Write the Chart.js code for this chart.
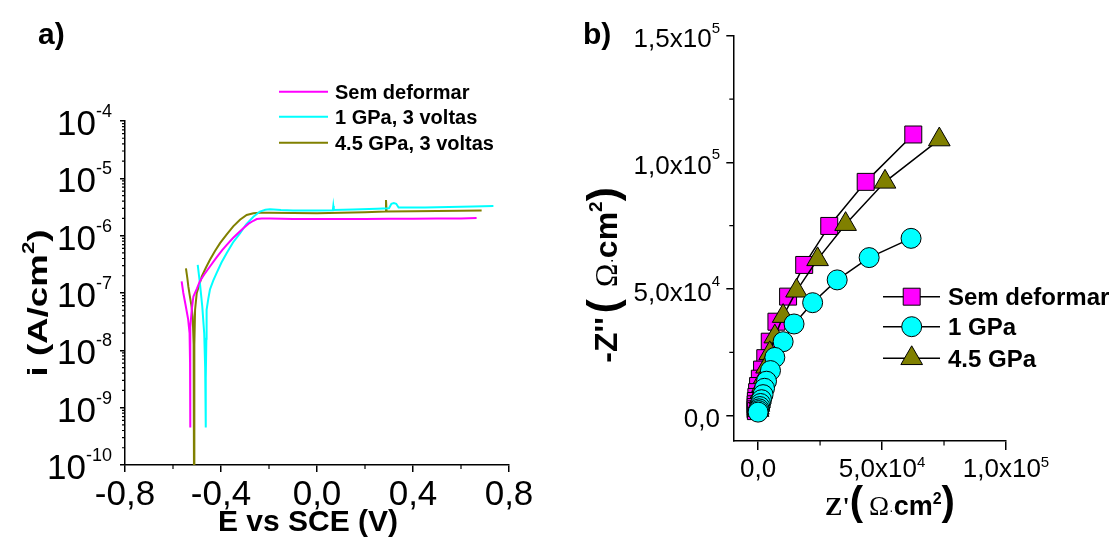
<!DOCTYPE html>
<html>
<head>
<meta charset="utf-8">
<script src="https://cdn.jsdelivr.net/npm/chart.js@4.4.1/dist/chart.umd.min.js"></script>
<style>
  html, body { margin: 0; padding: 0; background: #fff; overflow: hidden; }
  #wrap { position: relative; width: 1115px; height: 538px; }
  canvas { position: absolute; top: 0; }
  #polar { left: 0; }
  #nyq { left: 560px; }
</style>
</head>
<body>
<div id="wrap">
  <canvas id="polar" width="560" height="538"></canvas>
  <canvas id="nyq" width="555" height="538"></canvas>
</div>
<script>
const SANS = '"Liberation Sans", Arial, sans-serif';
const SERIF = '"Liberation Serif", "Times New Roman", serif';

// ---- a) polarization curves ----
const polarNames = ["Sem deformar", "1 GPa, 3 voltas", "4.5 GPa, 3 voltas"];
const polarColors = ["#ff00ff", "#00ffff", "#808000"];

const eSem = [-0.564, -0.557, -0.548, -0.537, -0.531, -0.529, -0.529, -0.528, -0.527, -0.522, -0.515, -0.500, -0.488, -0.470, -0.446, -0.420, -0.395, -0.376, -0.350, -0.325, -0.307, -0.285, -0.265, -0.251, -0.230, -0.196, -0.100, 0.000, 0.100, 0.200, 0.300, 0.400, 0.500, 0.600, 0.665];
const iSem = [1.6e-7, 1.0e-7, 6.3e-8, 3.5e-8, 2.0e-8, 6.3e-9, 4.5e-10, 5.0e-9, 2.5e-8, 5.1e-8, 8.7e-8, 1.2e-7, 1.6e-7, 2.1e-7, 2.9e-7, 4.1e-7, 5.6e-7, 6.9e-7, 9.1e-7, 1.15e-6, 1.35e-6, 1.62e-6, 1.82e-6, 1.95e-6, 2.0e-6, 2.0e-6, 1.96e-6, 1.95e-6, 1.96e-6, 1.96e-6, 1.97e-6, 1.98e-6, 1.99e-6, 2.0e-6, 2.03e-6];

const e1 = [-0.497, -0.488, -0.478, -0.470, -0.466, -0.464, -0.463, -0.461, -0.460, -0.453, -0.446, -0.432, -0.418, -0.398, -0.376, -0.350, -0.321, -0.295, -0.265, -0.238, -0.215, -0.196, -0.150, -0.100, -0.050, 0.000, 0.066, 0.068, 0.070, 0.150, 0.250, 0.300, 0.310, 0.320, 0.330, 0.340, 0.450, 0.550, 0.650, 0.735];
const i1 = [3.1e-7, 1.5e-7, 5.8e-8, 2.0e-8, 5.0e-9, 4.5e-10, 3.2e-9, 1.6e-8, 5.1e-8, 7.9e-8, 1.15e-7, 1.66e-7, 2.24e-7, 3.4e-7, 5.0e-7, 7.6e-7, 1.1e-6, 1.58e-6, 2.14e-6, 2.63e-6, 2.82e-6, 2.88e-6, 2.8e-6, 2.75e-6, 2.75e-6, 2.75e-6, 2.78e-6, 3.3e-6, 2.8e-6, 2.85e-6, 2.95e-6, 3.0e-6, 3.6e-6, 3.7e-6, 3.6e-6, 3.1e-6, 3.1e-6, 3.16e-6, 3.24e-6, 3.3e-6];

const e45 = [-0.546, -0.540, -0.536, -0.530, -0.524, -0.518, -0.514, -0.5125, -0.511, -0.508, -0.501, -0.490, -0.480, -0.463, -0.446, -0.425, -0.404, -0.376, -0.349, -0.321, -0.293, -0.265, -0.238, -0.200, -0.100, 0.000, 0.100, 0.200, 0.285, 0.2875, 0.290, 0.400, 0.500, 0.600, 0.686];
const i45 = [2.7e-7, 1.78e-7, 1.29e-7, 8.9e-8, 6.3e-8, 3.9e-8, 1.26e-8, 5e-11, 1.26e-8, 5.1e-8, 1.0e-7, 1.41e-7, 1.95e-7, 2.75e-7, 3.8e-7, 5.4e-7, 7.4e-7, 1.05e-6, 1.45e-6, 1.9e-6, 2.3e-6, 2.45e-6, 2.5e-6, 2.5e-6, 2.48e-6, 2.47e-6, 2.5e-6, 2.57e-6, 2.63e-6, 4.2e-6, 2.63e-6, 2.66e-6, 2.7e-6, 2.72e-6, 2.75e-6];

const polarXTicks = [-0.8, -0.4, 0, 0.4, 0.8];
const polarXLabels = ["-0,8", "-0,4", "0,0", "0,4", "0,8"];
const polarXMinor = [-0.6, -0.2, 0.2, 0.6];
const polarYTicks = [1e-4, 1e-5, 1e-6, 1e-7, 1e-8, 1e-9, 1e-10];
const polarYExp = ["-4", "-5", "-6", "-7", "-8", "-9", "-10"];

// ---- b) Nyquist ----
const nyqNames = ["Sem deformar", "1 GPa", "4.5 GPa"];
const zreSem = [62600, 43400, 28700, 18600, 12100, 7400, 4700, 2900, 1600, 700, 0, -400, -700, -900, -1000, -1000, -1000, -900];
const zimSem = [111000, 92300, 74900, 59500, 47000, 37100, 29200, 22700, 18200, 14600, 11700, 9300, 7400, 5800, 4500, 3400, 2500, 1800];
const zre1 = [61700, 44800, 31900, 22000, 14500, 10100, 6750, 5000, 3400, 2600, 2000, 1400, 1000, 700, 400, 200, 0];
const zim1 = [70000, 62400, 53600, 44600, 36200, 29200, 23000, 17800, 13600, 10800, 8300, 6300, 4800, 3600, 2700, 2000, 1400];
const zre45 = [73100, 51200, 35300, 24000, 15500, 10100, 6750, 4700, 3400, 2500, 1800, 1200, 800, 500, 300, 100, 0];
const zim45 = [109000, 92300, 75600, 61700, 49300, 39300, 31200, 24600, 19300, 15300, 12000, 9400, 7300, 5600, 4200, 3100, 2200];

const nyqXTicks = [0, 5e4, 1e5];
const nyqXLabels = [["0,0", ""], ["5,0x10", "4"], ["1,0x10", "5"]];
const nyqXMinor = [2.5e4, 7.5e4];
const nyqYTicks = [0, 5e4, 1e5, 1.5e5];
const nyqYLabels = [["0,0", ""], ["5,0x10", "4"], ["1,0x10", "5"], ["1,5x10", "5"]];
const nyqYMinor = [2.5e4, 7.5e4, 1.25e5];

// minor ticks of the log axis: 2..9 in every decade
const polarYMinor = [];
for (let e = -10; e < -4; e++) {
    for (let k = 2; k <= 9; k++) polarYMinor.push(k * Math.pow(10, e));
}

// text made of pieces (superscripts, mixed fonts); len stretches it to a given length
function rich(ctx, parts, x, y, align, angle, len) {
    ctx.save();
    ctx.translate(x, y);
    if (angle) ctx.rotate(angle);
    let w = 0;
    parts.forEach(p => {
        ctx.font = p.font;
        p.w = ctx.measureText(p.t).width + (p.gap || 0);
        w += p.w;
    });
    if (len) { ctx.scale(len / w, 1); }
    let cx = align === "center" ? -w / 2 : align === "right" ? -w : 0;
    ctx.fillStyle = "#000";
    ctx.textAlign = "left";
    ctx.textBaseline = "alphabetic";
    parts.forEach(p => {
        ctx.font = p.font;
        ctx.fillText(p.t, cx, p.dy || 0);
        cx += p.w;
    });
    ctx.restore();
}

function minorTicks(ctx, chart, xs, ys, xLen, yLen) {
    const a = chart.chartArea;
    ctx.save();
    ctx.strokeStyle = "#000";
    ctx.lineWidth = 1.2;
    ctx.beginPath();
    xs.forEach(v => {
        const p = chart.scales.x.getPixelForValue(v);
        ctx.moveTo(p, a.bottom);
        ctx.lineTo(p, a.bottom + xLen);
    });
    ys.forEach(v => {
        const p = chart.scales.y.getPixelForValue(v);
        ctx.moveTo(a.left, p);
        ctx.lineTo(a.left - yLen, p);
    });
    ctx.stroke();
    ctx.restore();
}

const polarDecor = {
    id: "polarDecor",
    afterDraw(chart) {
        const ctx = chart.ctx;
        const sx = chart.scales.x, sy = chart.scales.y;
        minorTicks(ctx, chart, polarXMinor, polarYMinor, 4, 3);

        polarXTicks.forEach((v, k) => {
            rich(ctx, [{ t: polarXLabels[k], font: "35px " + SANS }], sx.getPixelForValue(v), 505, "center");
        });
        polarYTicks.forEach((v, k) => {
            const p = sy.getPixelForValue(v);
            rich(ctx, [
                { t: "10", font: "35px " + SANS },
                { t: polarYExp[k], font: "18px " + SANS, dy: -18 }
            ], 112, p + 14, "right");
        });

        rich(ctx, [{ t: "E vs SCE (V)", font: "bold 30px " + SANS }], 308, 531, "center");
        rich(ctx, [
            { t: "i (A/cm", font: "bold 28px " + SANS },
            { t: "2", font: "bold 17px " + SANS, dy: -13 },
            { t: ")", font: "bold 28px " + SANS }
        ], 47, 303, "center", -Math.PI / 2, 147);
        rich(ctx, [{ t: "a)", font: "bold 30px " + SANS }], 38, 44, "left");

        // legend
        const rows = [91.7, 116.7, 142.7];
        chart.data.datasets.forEach((ds, k) => {
            ctx.save();
            ctx.strokeStyle = ds.borderColor;
            ctx.lineWidth = 2;
            ctx.beginPath();
            ctx.moveTo(279, rows[k]);
            ctx.lineTo(328, rows[k]);
            ctx.stroke();
            ctx.restore();
            rich(ctx, [{ t: ds.label, font: "bold 20px " + SANS }], 335, rows[k] + 7, "left");
        });
    }
};

new Chart(document.getElementById("polar"), {
    type: "line",
    data: {
        datasets: [
            { label: polarNames[0], data: eSem.map((e, k) => ({ x: e, y: iSem[k] })), borderColor: polarColors[0] },
            { label: polarNames[1], data: e1.map((e, k) => ({ x: e, y: i1[k] })), borderColor: polarColors[1] },
            { label: polarNames[2], data: e45.map((e, k) => ({ x: e, y: i45[k] })), borderColor: polarColors[2] }
        ]
    },
    options: {
        responsive: false,
        animation: false,
        devicePixelRatio: 1,
        layout: { autoPadding: false, padding: { left: 120, right: 51, top: 121, bottom: 66 } },
        elements: {
            line: { borderWidth: 2, tension: 0, fill: false },
            point: { radius: 0, hoverRadius: 0 }
        },
        plugins: { legend: { display: false }, tooltip: { enabled: false } },
        scales: {
            x: {
                type: "linear", min: -0.8, max: 0.8,
                afterBuildTicks: s => { s.ticks = polarXTicks.map(v => ({ value: v })); },
                ticks: { display: false },
                grid: { display: true, drawOnChartArea: false, drawTicks: true, tickLength: 7, color: "#000", lineWidth: 1.5 },
                border: { display: true, color: "#000", width: 1.5 }
            },
            y: {
                type: "logarithmic", min: 1e-10, max: 1e-4,
                afterBuildTicks: s => { s.ticks = polarYTicks.map(v => ({ value: v })); },
                ticks: { display: false },
                grid: { display: true, drawOnChartArea: false, drawTicks: true, tickLength: 5, color: "#000", lineWidth: 1.5 },
                border: { display: true, color: "#000", width: 1.5 }
            }
        }
    },
    plugins: [polarDecor]
});

// ---- b) ----
const nyqOrder = [0, 1, 2];
const nyqDecor = {
    id: "nyqDecor",
    afterDraw(chart) {
        const ctx = chart.ctx;
        const sx = chart.scales.x, sy = chart.scales.y;
        minorTicks(ctx, chart, nyqXMinor, nyqYMinor, 4.5, 4);

        nyqXTicks.forEach((v, k) => {
            rich(ctx, [
                { t: nyqXLabels[k][0], font: "26px " + SANS },
                { t: nyqXLabels[k][1], font: "15px " + SANS, dy: -10 }
            ], sx.getPixelForValue(v), 477, "center");
        });
        nyqYTicks.forEach((v, k) => {
            const p = sy.getPixelForValue(v);
            rich(ctx, [
                { t: nyqYLabels[k][0], font: "26px " + SANS },
                { t: nyqYLabels[k][1], font: "15px " + SANS, dy: -14.5 }
            ], 160, p + 11.5, "right");
        });

        rich(ctx, [
            { t: "Z'", font: "bold 26px " + SERIF },
            { t: "(", font: "bold 40px " + SANS, gap: 6 },
            { t: "\u03A9", font: "27px " + SERIF },
            { t: "\u00B7", font: "14px " + SANS },
            { t: "cm", font: "bold 27px " + SANS },
            { t: "2", font: "bold 16px " + SANS, dy: -11 },
            { t: ")", font: "bold 40px " + SANS }
        ], 330, 515, "center");
        rich(ctx, [
            { t: "-Z''", font: "bold 32px " + SANS, gap: 4 },
            { t: "(", font: "bold 42px " + SANS, gap: 12 },
            { t: "\u03A9", font: "32px " + SERIF },
            { t: "\u00B7", font: "16px " + SANS },
            { t: "cm", font: "bold 32px " + SANS },
            { t: "2", font: "bold 19px " + SANS, dy: -15 },
            { t: ")", font: "bold 42px " + SANS }
        ], 57, 275, "center", -Math.PI / 2);
        rich(ctx, [{ t: "b)", font: "bold 30px " + SANS }], 23, 44, "left");

        // legend: line, marker, name
        const rows = [296.7, 326.7, 358.3];
        nyqOrder.forEach((dsIndex, k) => {
            const ds = chart.data.datasets[dsIndex];
            const y = rows[k];
            ctx.save();
            ctx.strokeStyle = "#000";
            ctx.lineWidth = 1.5;
            ctx.beginPath();
            ctx.moveTo(323, y);
            ctx.lineTo(380, y);
            ctx.stroke();
            ctx.fillStyle = ds.pointBackgroundColor;
            ctx.strokeStyle = "#000";
            ctx.lineWidth = 1;
            Chart.helpers.drawPoint(ctx, { pointStyle: ds.pointStyle, radius: ds.pointRadius, rotation: 0, borderWidth: 1 }, 351.7, y);
            ctx.restore();
            rich(ctx, [{ t: ds.label, font: "bold 24px " + SANS }], 388, y + 8.5, "left");
        });
    }
};

new Chart(document.getElementById("nyq"), {
    type: "scatter",
    data: {
        datasets: [
            {
                label: nyqNames[0], data: zreSem.map((v, k) => ({ x: v, y: zimSem[k] })),
                pointStyle: "rect", pointRadius: 12, pointBackgroundColor: "#ff00ff", order: 3
            },
            {
                label: nyqNames[1], data: zre1.map((v, k) => ({ x: v, y: zim1[k] })),
                pointStyle: "circle", pointRadius: 10, pointBackgroundColor: "#00ffff", order: 1
            },
            {
                label: nyqNames[2], data: zre45.map((v, k) => ({ x: v, y: zim45[k] })),
                pointStyle: "triangle", pointRadius: 12.5, pointBackgroundColor: "#808000", order: 2
            }
        ].map(ds => Object.assign(ds, {
            showLine: true, borderColor: "#000", borderWidth: 1.5,
            pointBorderColor: "#000", pointBorderWidth: 1, pointHoverRadius: ds.pointRadius
        }))
    },
    options: {
        responsive: false,
        animation: false,
        devicePixelRatio: 1,
        layout: { autoPadding: false, padding: { left: 166.3, right: 109, top: 35.7, bottom: 88 } },
        plugins: { legend: { display: false }, tooltip: { enabled: false } },
        scales: {
            x: {
                type: "linear", min: -1e4, max: 1e5,
                afterBuildTicks: s => { s.ticks = nyqXTicks.map(v => ({ value: v })); },
                ticks: { display: false },
                grid: { display: true, drawOnChartArea: false, drawTicks: true, tickLength: 9, color: "#000", lineWidth: 1.5 },
                border: { display: true, color: "#000", width: 1.5 }
            },
            y: {
                type: "linear", min: -1e4, max: 1.5e5,
                afterBuildTicks: s => { s.ticks = nyqYTicks.map(v => ({ value: v })); },
                ticks: { display: false },
                grid: { display: true, drawOnChartArea: false, drawTicks: true, tickLength: 7, color: "#000", lineWidth: 1.5 },
                border: { display: true, color: "#000", width: 1.5 }
            }
        }
    },
    plugins: [nyqDecor]
});
</script>
</body>
</html>
